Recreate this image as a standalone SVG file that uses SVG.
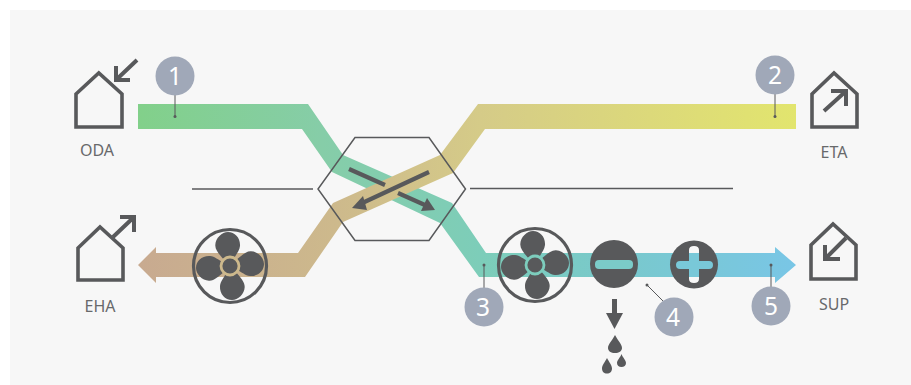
<svg xmlns="http://www.w3.org/2000/svg" width="911" height="385" viewBox="0 0 911 385">
<style>
.house{fill:none;stroke:#58595b;stroke-width:3.6;stroke-linejoin:miter}
.harrow{fill:none;stroke:#58595b;stroke-width:4;stroke-linejoin:miter}
.lbl{font-family:"Noto Sans","Open Sans",sans-serif;font-weight:400;font-size:16px;fill:#68696b;text-anchor:middle}
.num{font-family:"Noto Sans","Open Sans",sans-serif;font-weight:400;font-size:24.500px;fill:#fff;text-anchor:middle}
.bad{fill:#a0a8b8}
.lead{stroke:#58595b;stroke-width:1;fill:none}
.dot{fill:#58595b}
.line{stroke:#58595b;stroke-width:1.5;fill:none}
.g{fill:#58595b}
</style>
<defs>
<linearGradient id="cool" gradientUnits="userSpaceOnUse" x1="138" y1="0" x2="796" y2="0">
<stop offset="0" stop-color="#82d08a"/><stop offset="0.28" stop-color="#86cda8"/><stop offset="0.52" stop-color="#7dcdb9"/><stop offset="0.72" stop-color="#79c9cb"/><stop offset="1" stop-color="#79c6e6"/>
</linearGradient>
<linearGradient id="warm" gradientUnits="userSpaceOnUse" x1="138" y1="0" x2="796" y2="0">
<stop offset="0" stop-color="#c8aa90"/><stop offset="0.3" stop-color="#cdb98c"/><stop offset="0.52" stop-color="#d5cb88"/><stop offset="1" stop-color="#e2e56e"/>
</linearGradient>
<g id="blades">
<path id="blade" d="M-6,-6C-10,-11 -15,-16 -14.700,-21C-14.500,-28 -8,-34 -2,-34C5,-34 10.500,-28 10,-20C9.500,-15 6,-12 4,-7Z"/>
<use href="#blade" transform="rotate(90)"/><use href="#blade" transform="rotate(180)"/><use href="#blade" transform="rotate(270)"/>
</g>
</defs>
<rect width="911" height="385" fill="#fff"/>
<rect id="panel" x="10" y="10" width="901" height="375" fill="#f7f7f7"/>

<g id="connectors">
<path id="cool-band" fill="url(#cool)" d="M138,104H308L343,155L452,203L486,253H775V247L796,265L775,283V277H479L440,223L332,172L302,129H138Z"/>
<path id="warm-band" fill="url(#warm)" d="M796,104H478L440,155L333,203L298,253H156V247L138,265L156,283V277H305L343,222L453,173L485,129H796Z"/>
<line class="line" x1="192" y1="189" x2="313" y2="189"/>
<line class="line" x1="470" y1="188.500" x2="733" y2="188.500"/>
</g>

<g id="exchanger">
<polygon points="355,137.500 429,137.500 465.500,189 429,240.500 355,240.500 318,189" fill="none" stroke="#58595b" stroke-width="1.500"/>
<path d="M429,172L358,205M349,169L385,185M398,193L426,205.500" fill="none" stroke="#58595b" stroke-width="4.200"/>
<polygon class="g" points="352,208 363,196 367,210"/>
<polygon class="g" points="435,210 427,198 421,211"/>
</g>

<g id="fan-left">
<circle cx="230" cy="266" r="36.500" fill="none" stroke="#58595b" stroke-width="3.200"/>
<use href="#blades" x="230" y="266" class="g"/>
<circle cx="230" cy="266" r="9" fill="#58595b" stroke="#cdb98c" stroke-width="2.800"/>
</g>
<g id="fan-right">
<circle cx="535" cy="265" r="36.500" fill="none" stroke="#58595b" stroke-width="3.200"/>
<use href="#blades" x="535" y="265" class="g"/>
<circle cx="535" cy="265" r="9" fill="#58595b" stroke="#7dcdbd" stroke-width="2.800"/>
</g>

<g id="cooler">
<circle cx="614" cy="264" r="24" class="g"/>
<rect x="595" y="260" width="38" height="9" rx="4" fill="#7bcbc8"/>
<polygon class="g" points="612,299 617,299 617,313 623,313 614.500,329 606,313 612,313"/>
<path class="g" d="M615,335C612,341 608,344 608,348C608,351 611,353 615,353C619,353 622,351 622,348C622,344 618,341 615,335Z"/>
<path class="g" d="M607,358C605,362 602,365 602,368.500C602,371.500 604,373.500 607,373.500C610,373.500 612,371.500 612,368.500C612,365 609,362 607,358Z"/>
<path class="g" d="M621.500,354C620,358 617,360 617,363C617,365.500 619,367 621.500,367C624,367 626,365.500 626,363C626,360 623,358 621.500,354Z"/>
</g>
<g id="heater">
<circle cx="694" cy="264.500" r="24" class="g"/>
<path d="M689,253V250Q689,246 694,246Q699,246 699,250V253ZM689,277H699V279Q699,283 694,283Q689,283 689,279Z" fill="#f7f7f7"/>
<path d="M680,261H689V253H699V261H709Q713,261 713,265Q713,269 709,269H699V277H689V269H680Q676,269 676,265Q676,261 680,261Z" fill="#79c8d8"/>
</g>

<g id="oda">
<path class="house" d="M76,94L98.800,73L122,94V127H76Z"/>
<path class="harrow" d="M137,60L117,79M116,66V80H130"/>
<text class="lbl" x="97" y="156">ODA</text>
</g>
<g id="eta">
<path class="house" d="M812,94L834,73L857,94V127H812Z"/>
<path class="harrow" d="M824,111L845,92M831,91H846V106"/>
<text class="lbl" x="834" y="158">ETA</text>
</g>
<g id="eha">
<path class="house" d="M78,248L100,227L123,248V280H78Z"/>
<path class="harrow" d="M113,237L133,218M120,217H134V232"/>
<text class="lbl" x="100" y="312">EHA</text>
</g>
<g id="sup">
<path class="house" d="M811,245L833,224L856,245V279H811Z"/>
<path class="harrow" d="M846,238L827,257M825,245V259H840"/>
<text class="lbl" x="834" y="310">SUP</text>
</g>

<g id="badge-1"><line class="lead" x1="175" y1="95" x2="175" y2="116.500"/><circle class="dot" cx="175" cy="116.500" r="1.500"/><circle class="bad" cx="175" cy="76" r="19.500"/><text class="num" x="175" y="85">1</text></g>
<g id="badge-2"><line class="lead" x1="775" y1="94" x2="775" y2="116.500"/><circle class="dot" cx="775" cy="116.500" r="1.500"/><circle class="bad" cx="775" cy="75" r="19.500"/><text class="num" x="775" y="84">2</text></g>
<g id="badge-3"><line class="lead" x1="484" y1="288" x2="484" y2="265"/><circle class="dot" cx="484" cy="265" r="1.500"/><circle class="bad" cx="484" cy="307" r="19.500"/><text class="num" x="483" y="316">3</text></g>
<g id="badge-4"><line class="lead" x1="647" y1="285" x2="663" y2="301"/><circle class="dot" cx="647" cy="285" r="1.500"/><circle class="bad" cx="674" cy="317" r="19.500"/><text class="num" x="673" y="326">4</text></g>
<g id="badge-5"><line class="lead" x1="771" y1="287" x2="771" y2="265"/><circle class="dot" cx="771" cy="265" r="1.500"/><circle class="bad" cx="771" cy="306" r="19.500"/><text class="num" x="771" y="315">5</text></g>
</svg>
